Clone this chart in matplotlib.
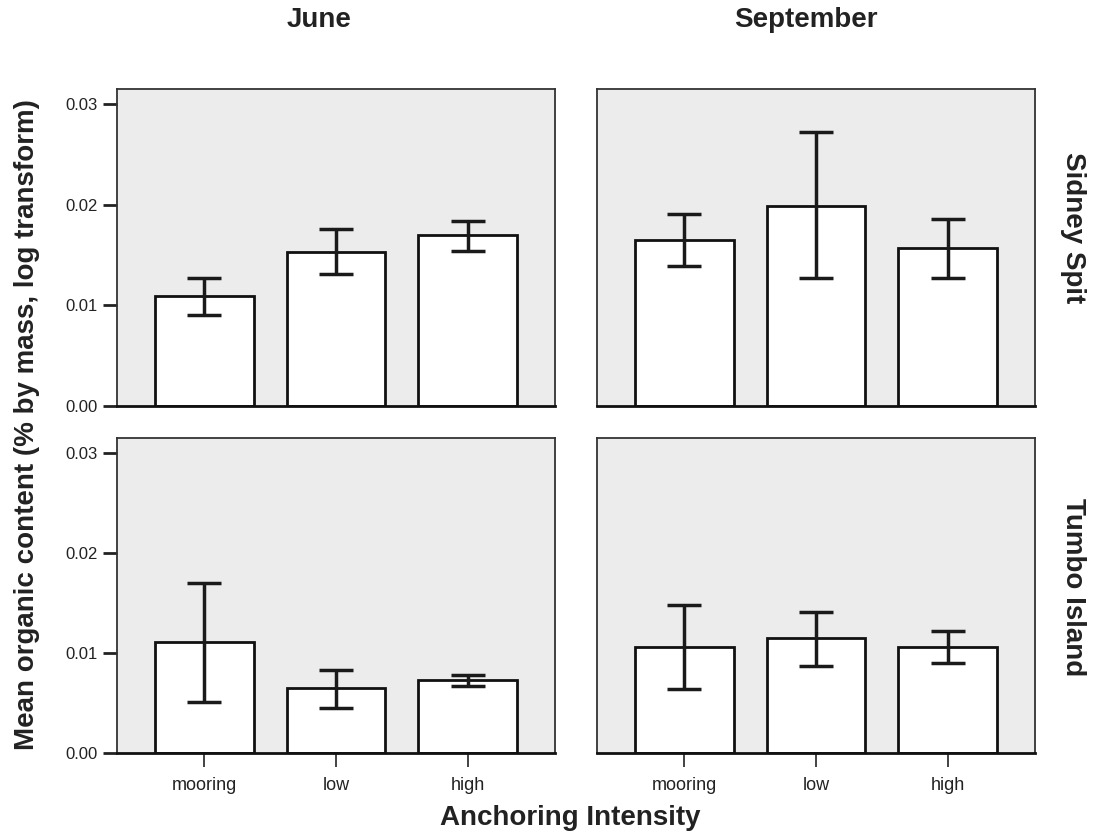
import numpy as np
import matplotlib.pyplot as plt

plt.rcParams['font.family'] = ['Liberation Sans', 'DejaVu Sans']

levels = ['mooring', 'low', 'high']
months = ['June', 'September']
sites = ['Sidney Spit', 'Tumbo Island']

# bar means and the lower / upper ends of the error bars
sidney_june = [0.0109, 0.0153, 0.0170]
sidney_june_lo = [0.0090, 0.0131, 0.0154]
sidney_june_hi = [0.0127, 0.0176, 0.0184]

sidney_sept = [0.0165, 0.0199, 0.0157]
sidney_sept_lo = [0.0139, 0.0127, 0.0127]
sidney_sept_hi = [0.0191, 0.0272, 0.0186]

tumbo_june = [0.0111, 0.0065, 0.0073]
tumbo_june_lo = [0.0051, 0.0045, 0.0067]
tumbo_june_hi = [0.0170, 0.0083, 0.0078]

tumbo_sept = [0.0106, 0.0115, 0.0106]
tumbo_sept_lo = [0.0064, 0.0087, 0.0090]
tumbo_sept_hi = [0.0148, 0.0141, 0.0122]

yticks = [0.00, 0.01, 0.02, 0.03]
ytick_labels = ['0.00', '0.01', '0.02', '0.03']

panels = [
    [(sidney_june, sidney_june_lo, sidney_june_hi), (sidney_sept, sidney_sept_lo, sidney_sept_hi)],
    [(tumbo_june, tumbo_june_lo, tumbo_june_hi), (tumbo_sept, tumbo_sept_lo, tumbo_sept_hi)],
]

W, H = 1102, 839
fig = plt.figure(figsize=(W / 100, H / 100), dpi=100)

lefts = [117 / W, 597 / W]
width = 438 / W
bottoms = [1 - 406 / H, 1 - 753 / H]
heights = [317 / H, 315 / H]

x = np.arange(len(levels))
for r in range(2):
    for c in range(2):
        ax = fig.add_axes([lefts[c], bottoms[r], width, heights[r]])
        ax.set_facecolor('#ececec')
        mean, lo, hi = panels[r][c]
        mean = np.array(mean)
        yerr = [mean - np.array(lo), np.array(hi) - mean]
        ax.bar(x, mean, width=0.75, color='white', edgecolor='#111111', linewidth=2, zorder=2)
        ax.errorbar(x, mean, yerr=yerr, fmt='none', ecolor='#1a1a1a',
                    elinewidth=2.5, capsize=12, capthick=2.5, zorder=3)
        ax.set_xlim(-0.665, 2.665)
        ax.set_ylim(0, 0.0315)
        for s in ax.spines.values():
            s.set_color('#333333')
            s.set_linewidth(1.3)
        ax.spines['bottom'].set_linewidth(2)
        ax.spines['bottom'].set_color('#111111')
        if c == 0:
            ax.set_yticks(yticks)
            ax.set_yticklabels(ytick_labels)
            ax.tick_params(axis='y', direction='out', length=10, width=2,
                           labelsize=12, pad=4, colors='#222222')
        else:
            ax.set_yticks([])
        if r == 1:
            ax.set_xticks(x)
            ax.set_xticklabels(levels)
            ax.tick_params(axis='x', direction='out', length=10, width=1.2,
                           labelsize=13, pad=7, colors='#222222')
        else:
            ax.set_xticks([])

fig.text(319 / W, 1 - 20 / H, months[0], ha='center', va='center', fontsize=20, fontweight='bold', color='#222222')
fig.text(806 / W, 1 - 20 / H, months[1], ha='center', va='center', fontsize=20, fontweight='bold', color='#222222')
fig.text(1073 / W, 1 - 228 / H, sites[0], ha='center', va='center', rotation=-90, fontsize=20, fontweight='bold', color='#222222')
fig.text(1073 / W, 1 - 587 / H, sites[1], ha='center', va='center', rotation=-90, fontsize=20, fontweight='bold', color='#222222')
fig.text(27 / W, 1 - 425 / H, 'Mean organic content (% by mass, log transform)', ha='center', va='center',
         rotation=90, fontsize=20, fontweight='bold', color='#222222')
fig.text(570 / W, 1 - 818 / H, 'Anchoring Intensity', ha='center', va='center', fontsize=20,
         fontweight='bold', color='#222222')

fig.savefig('out.png', dpi=100, facecolor='white')
